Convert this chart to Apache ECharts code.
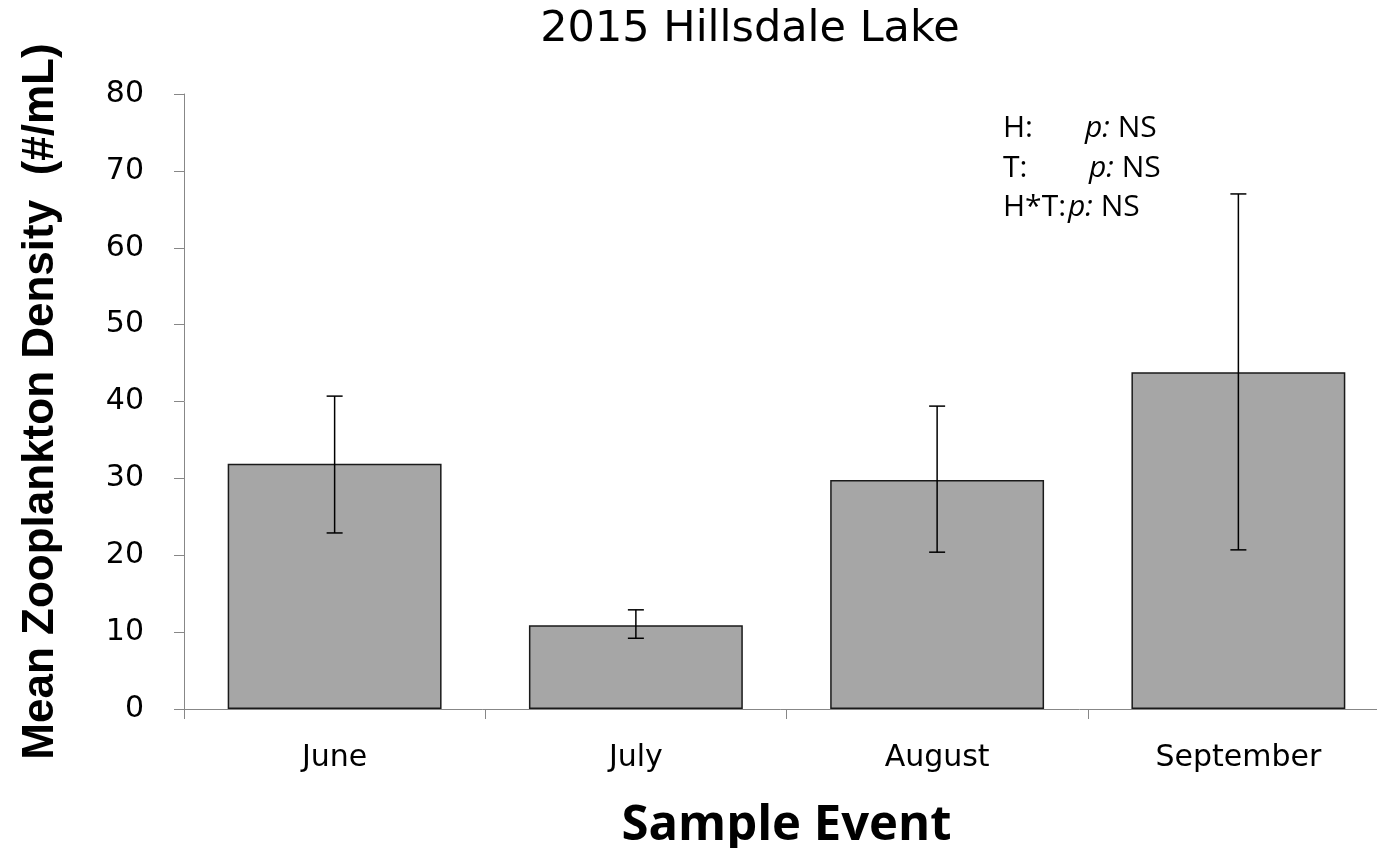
<!DOCTYPE html>
<html>
<head>
<meta charset="utf-8">
<script src="https://cdn.jsdelivr.net/npm/echarts@6/dist/echarts.min.js"></script>
<style>html,body{margin:0;padding:0;background:#fff}#c{width:1377px;height:848px}</style>
</head>
<body>
<div id="c"></div>
<script>
const months = ['June', 'July', 'August', 'September'];
const means = [31.9, 10.9, 29.8, 43.8];
const errLow = [22.9, 9.2, 20.4, 20.7];
const errHigh = [40.7, 12.9, 39.4, 67.0];
const yTicks = [0, 10, 20, 30, 40, 50, 60, 70, 80];

const chart = echarts.init(document.getElementById('c'), null, {renderer: 'canvas'});
const font = 'DejaVu Sans';
const option = {
  backgroundColor: '#ffffff',
  animation: false,
  title: {
    text: '2015 Hillsdale Lake',
    left: 745, top: 3, textAlign: 'center',
    textStyle: {fontFamily: font, fontSize: 43, fontWeight: 'normal', color: '#000'}
  },
  grid: {left: 184, top: 94, width: 1205, bottom: 139, outerBoundsMode: 'none', containLabel: false},
  xAxis: {
    type: 'category', data: months,
    name: 'Sample Event', nameLocation: 'middle', nameGap: 93,
    nameTextStyle: {fontFamily: 'Open Sans', fontSize: 49, fontWeight: 'bold', color: '#000'},
    axisLine: {lineStyle: {color: '#878787', width: 1}},
    axisTick: {show: true, alignWithLabel: false, length: 10, lineStyle: {color: '#878787'}},
    axisLabel: {fontFamily: font, fontSize: 30, color: '#000', margin: 34}
  },
  yAxis: {
    type: 'value', min: 0, max: 80, interval: 10,
    name: 'Mean Zooplankton Density  (#/mL)', nameLocation: 'middle', nameGap: 121,
    nameTextStyle: {fontFamily: 'Liberation Sans', fontSize: 44, fontWeight: 'bold', color: '#000'},
    axisLine: {show: true, lineStyle: {color: '#878787', width: 1}},
    axisTick: {show: true, length: 10, lineStyle: {color: '#878787'}},
    splitLine: {show: false},
    axisLabel: {fontFamily: font, fontSize: 30, color: '#000', margin: 40,
      formatter: v => yTicks.includes(v) ? String(v) : ''}
  },
  series: [
    {
      type: 'bar', data: means, barWidth: '71%',
      itemStyle: {color: '#a6a6a6', borderColor: '#1a1a1a', borderWidth: 1.5}
    },
    {
      type: 'custom',
      data: months.map((m, i) => [i, errLow[i], errHigh[i]]),
      renderItem: function (params, api) {
        const i = api.value(0);
        const lo = api.coord([i, api.value(1)]);
        const hi = api.coord([i, api.value(2)]);
        const hw = 8;
        const st = {stroke: '#000', lineWidth: 1.5};
        return {type: 'group', children: [
          {type: 'line', shape: {x1: lo[0], y1: lo[1], x2: hi[0], y2: hi[1]}, style: st},
          {type: 'line', shape: {x1: lo[0] - hw, y1: lo[1], x2: lo[0] + hw, y2: lo[1]}, style: st},
          {type: 'line', shape: {x1: hi[0] - hw, y1: hi[1], x2: hi[0] + hw, y2: hi[1]}, style: st}
        ]};
      },
      z: 5
    }
  ],
  graphic: [
    {type: 'text', left: 1003, top: 113, style: {text: 'H:', font: '30px "Open Sans"', fill: '#000'}},
    {type: 'text', left: 1003, top: 153, style: {text: 'T:', font: '30px "Open Sans"', fill: '#000'}},
    {type: 'text', left: 1003, top: 192, style: {text: 'H*T:', font: '30px "Open Sans"', fill: '#000'}},
    {type: 'text', left: 1085, top: 113, style: {text: '{i|p:} NS', font: '30px "Open Sans"', fill: '#000', rich: {i: {fontStyle: 'italic', fontSize: 30, fontFamily: 'Open Sans'}}}},
    {type: 'text', left: 1089, top: 153, style: {text: '{i|p:} NS', font: '30px "Open Sans"', fill: '#000', rich: {i: {fontStyle: 'italic', fontSize: 30, fontFamily: 'Open Sans'}}}},
    {type: 'text', left: 1068, top: 192, style: {text: '{i|p:} NS', font: '30px "Open Sans"', fill: '#000', rich: {i: {fontStyle: 'italic', fontSize: 30, fontFamily: 'Open Sans'}}}}
  ]
};
chart.setOption(option);
</script>
</body>
</html>
